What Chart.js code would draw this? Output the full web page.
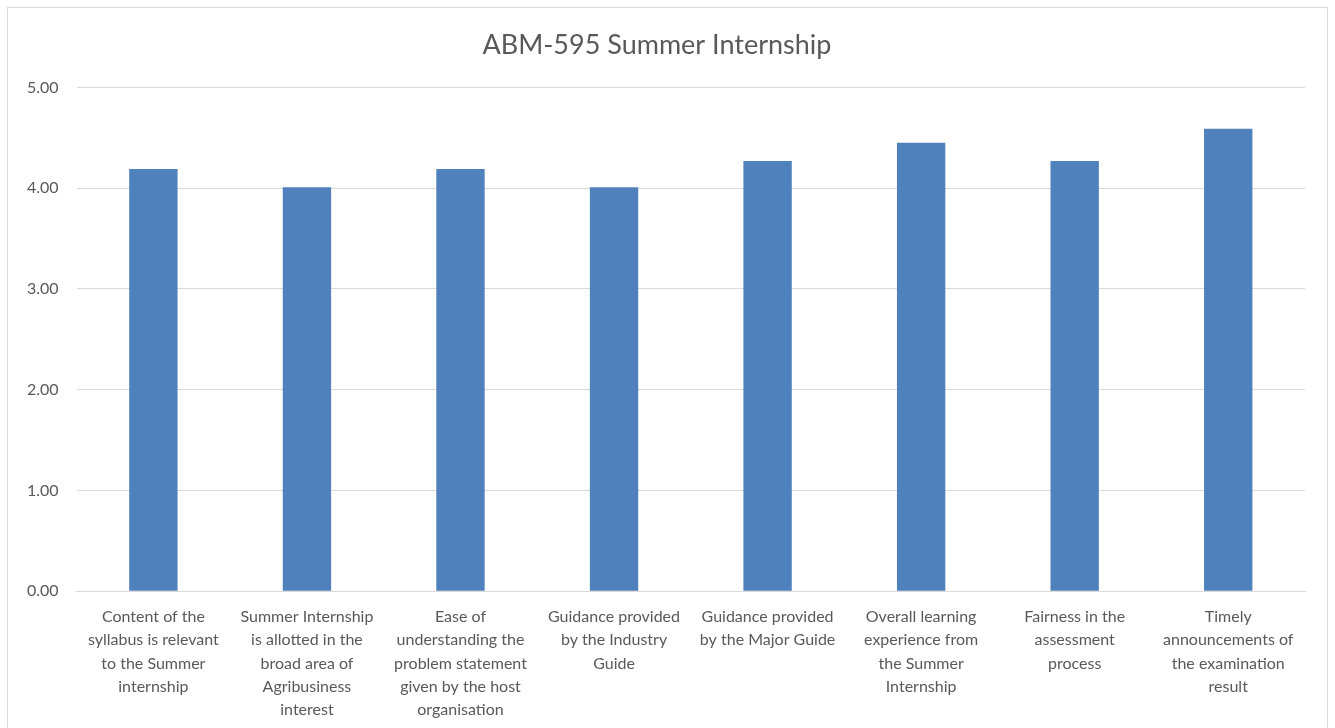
<!DOCTYPE html>
<html>
<head>
<meta charset="utf-8">
<script src="https://cdn.jsdelivr.net/npm/chart.js@4"></script>
<style>
    html, body { margin: 0; padding: 0; background: #fff; }
    #wrap { position: relative; width: 1335px; height: 728px; }
    #frame { position: absolute; left: 7px; top: 7px; width: 1319px; height: 740px; border: 1px solid #d9d9d9; pointer-events: none; }
</style>
</head>
<body>
<div id="wrap">
    <canvas id="chart" width="1335" height="728"></canvas>
    <div id="frame"></div>
</div>
<script>
// Data
const categories = [
    ['Content of the', 'syllabus is relevant', 'to the Summer', 'internship'],
    ['Summer Internship', 'is allotted in the', 'broad area of', 'Agribusiness', 'interest'],
    ['Ease of', 'understanding the', 'problem statement', 'given by the host', 'organisation'],
    ['Guidance provided', 'by the Industry', 'Guide'],
    ['Guidance provided', 'by the Major Guide'],
    ['Overall learning', 'experience from', 'the Summer', 'Internship'],
    ['Fairness in the', 'assessment', 'process'],
    ['Timely', 'announcements of', 'the examination', 'result']
];
const scores = [4.19, 4.01, 4.19, 4.01, 4.27, 4.45, 4.27, 4.59];
const yTicks = [0, 1, 2, 3, 4, 5];

const FONT = 'Lato, "Open Sans", sans-serif';
const TEXT = '#595959';

new Chart(document.getElementById('chart'), {
    type: 'bar',
    data: {
        labels: categories,
        datasets: [{
            label: 'Score',
            data: scores,
            backgroundColor: '#4f81bd',
            borderWidth: 0,
            categoryPercentage: 1,
            barPercentage: 0.315
        }]
    },
    options: {
        responsive: false,
        animation: false,
        layout: { padding: { left: 9, right: 30, top: 15, bottom: 0 } },
        plugins: {
            legend: { display: false },
            tooltip: { enabled: false },
            title: {
                display: true,
                text: 'ABM-595 Summer Internship',
                color: TEXT,
                font: { family: FONT, size: 27, weight: 'normal' },
                padding: { top: 14, bottom: 26 }
            }
        },
        scales: {
            x: {
                grid: { display: false },
                border: { display: true, color: '#d9d9d9', width: 1 },
                ticks: {
                    color: TEXT,
                    font: { family: FONT, size: 16, lineHeight: 1.46 },
                    maxRotation: 0,
                    autoSkip: false,
                    padding: 6
                }
            },
            y: {
                min: 0,
                max: 5,
                afterBuildTicks: axis => { axis.ticks = yTicks.map(v => ({ value: v })); },
                grid: { color: '#d9d9d9', lineWidth: 1, drawTicks: false },
                border: { display: false },
                ticks: {
                    color: TEXT,
                    font: { family: FONT, size: 16 },
                    padding: 18,
                    callback: v => Number(v).toFixed(2)
                }
            }
        }
    }
});
</script>
</body>
</html>
